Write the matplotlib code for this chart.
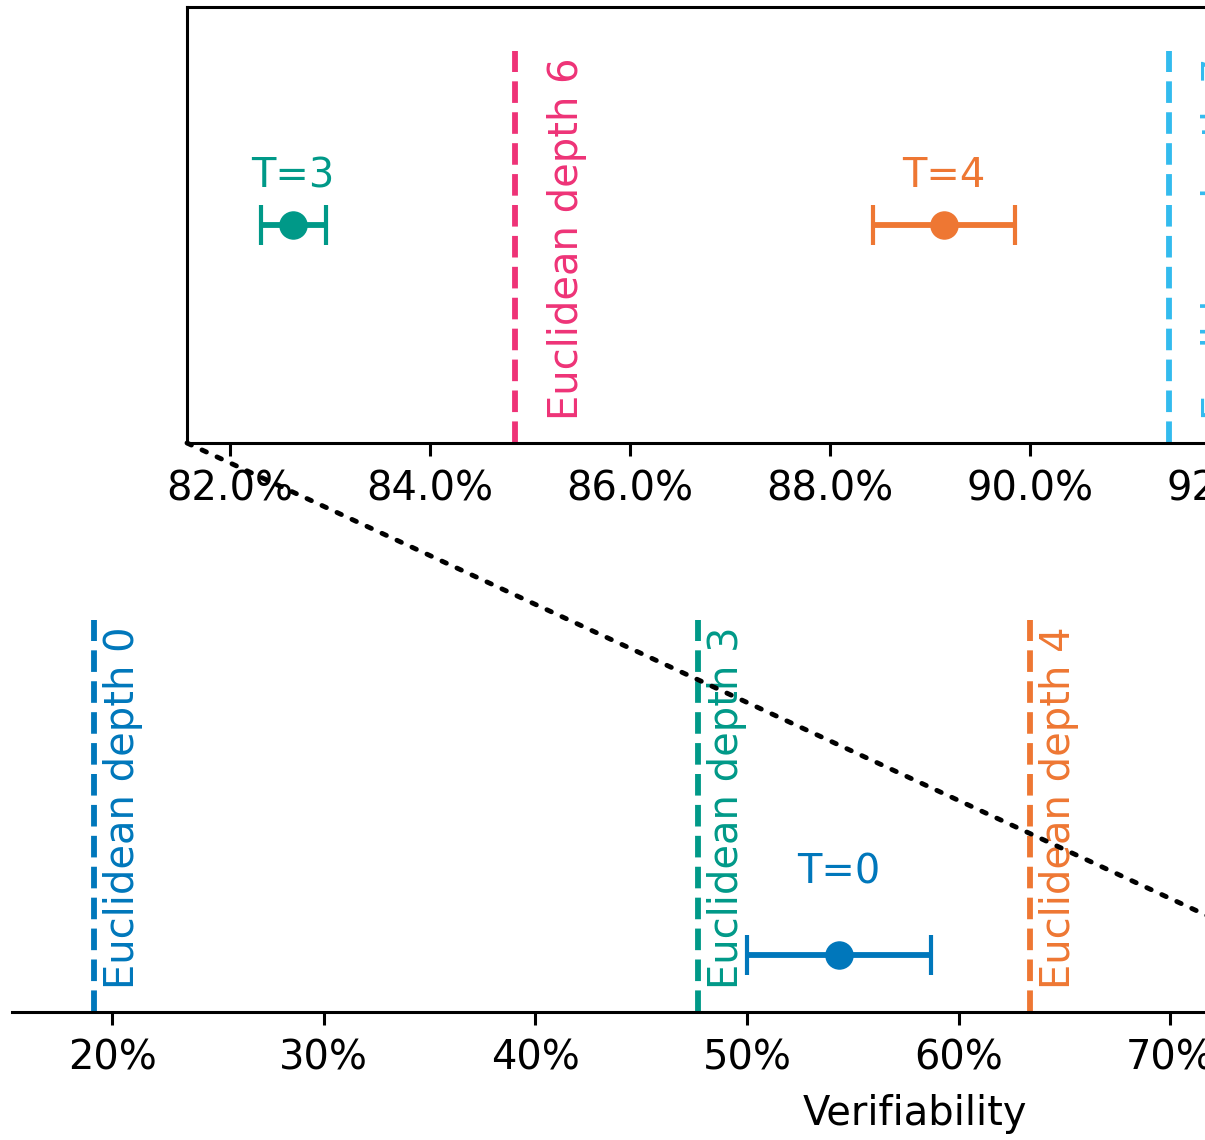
import matplotlib
matplotlib.use("Agg")
import matplotlib.pyplot as plt
from matplotlib.ticker import PercentFormatter, MultipleLocator
from matplotlib.patches import ConnectionPatch

# ---------------- data ----------------
main_depth_labels = ["Euclidean depth 0", "Euclidean depth 3", "Euclidean depth 4"]
main_depth_values = [19.15, 47.68, 63.36]
main_depth_colors = ["#0077BB", "#009988", "#EE7733"]

inset_depth_labels = ["Euclidean depth 6", "Euclidean depth 7"]
inset_depth_values = [84.85, 91.39]
inset_depth_colors = ["#EE3377", "#33BBEE"]

main_points_labels = ["T=0"]
main_points_x = [54.34]
main_points_err_lo = [50.0]
main_points_err_hi = [58.69]
main_points_colors = ["#0077BB"]

inset_points_labels = ["T=3", "T=4"]
inset_points_x = [82.63, 89.14]
inset_points_err_lo = [82.31, 88.43]
inset_points_err_hi = [82.96, 89.85]
inset_points_colors = ["#009988", "#EE7733"]

main_xlim = (15.27, 100.6)
inset_xlim = (81.57, 96.13)

FS = 28.8
plt.rcParams["font.family"] = ["DejaVu Sans"]

W, H = 1205, 1140
fig = plt.figure(figsize=(W / 100, H / 100), dpi=100)

# axes positions (in pixels converted to figure fraction)
ax = fig.add_axes([12 / W, (H - 1012) / H, 1806 / W, 436 / H])
axi = fig.add_axes([187 / W, (H - 443) / H, 1456 / W, 436 / H])

SPINE_LW = 2.2
for a in (ax, axi):
    a.set_ylim(0, 1)
    a.set_yticks([])
    for s in a.spines.values():
        s.set_linewidth(SPINE_LW)
    a.tick_params(axis="x", labelsize=FS, length=9.5, width=SPINE_LW, pad=9.5)

for s in ("left", "right", "top"):
    ax.spines[s].set_visible(False)

ax.set_xlim(*main_xlim)
axi.set_xlim(*inset_xlim)
ax.xaxis.set_major_locator(MultipleLocator(10))
ax.xaxis.set_major_formatter(PercentFormatter(xmax=100, decimals=0))
axi.xaxis.set_major_locator(MultipleLocator(2))
axi.xaxis.set_major_formatter(PercentFormatter(xmax=100, decimals=1))
ax.set_xlabel("Verifiability", fontsize=FS, labelpad=11)


def draw_depths(a, labels, values, colors, dx):
    for lab, v, c in zip(labels, values, colors):
        a.axvline(v, ymin=0, ymax=0.9, color=c, lw=4.2, ls="--")
        a.text(v + dx, 0.885, lab, rotation=90, color=c, fontsize=FS,
               ha="left", va="top", transform=a.get_xaxis_transform())


def draw_points(a, labels, xs, lo, hi, colors, y, ylab):
    for lab, x, l, h, c in zip(labels, xs, lo, hi, colors):
        a.errorbar([x], [y], xerr=[[x - l], [h - x]], fmt="o", color=c,
                   markersize=19.5, elinewidth=4.2, capsize=14.4, capthick=3)
        a.text(x, ylab, lab, color=c, fontsize=FS, ha="center", va="baseline")


draw_depths(ax, main_depth_labels, main_depth_values, main_depth_colors, 0.42)
draw_depths(axi, inset_depth_labels, inset_depth_values, inset_depth_colors, 0.32)
draw_points(ax, main_points_labels, main_points_x, main_points_err_lo,
            main_points_err_hi, main_points_colors, 0.131, 0.294)
draw_points(axi, inset_points_labels, inset_points_x, inset_points_err_lo,
            inset_points_err_hi, inset_points_colors, 0.5, 0.587)

# dotted connector from inset lower-left corner to zoom region in main axes
con = ConnectionPatch(xyA=(inset_xlim[0], 0), coordsA=axi.transData,
                      xyB=(inset_xlim[0], 0), coordsB=ax.transData,
                      color="black", lw=3.5, ls=(0, (1, 2.4)))
fig.add_artist(con)

fig.savefig("out.png", dpi=100)
